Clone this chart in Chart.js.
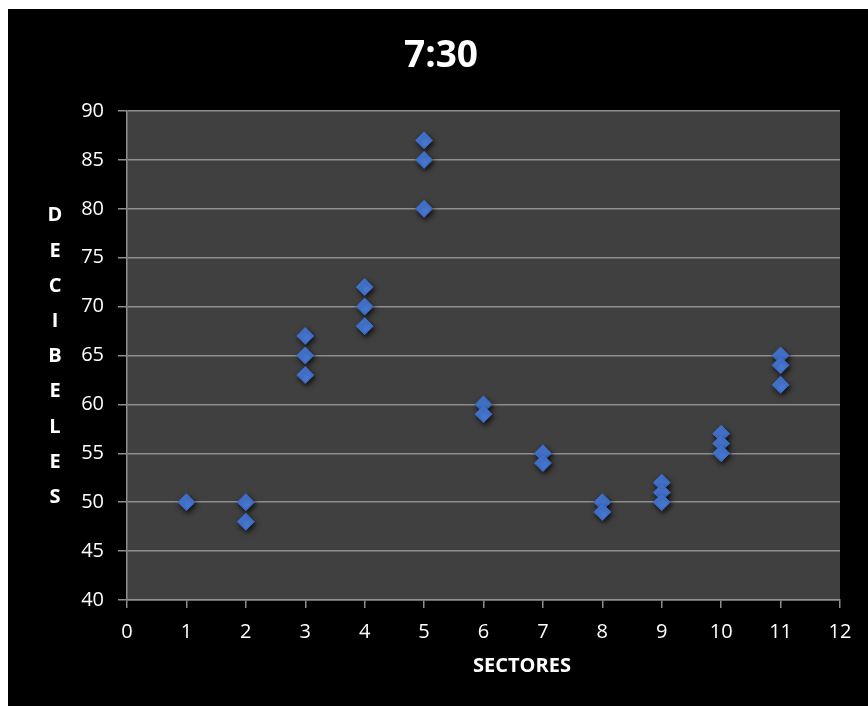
<!DOCTYPE html>
<html>
<head>
<meta charset="utf-8">
<script src="https://cdn.jsdelivr.net/npm/chart.js@4/dist/chart.umd.min.js"></script>
<style>
  html, body { margin: 0; padding: 0; background: #ffffff; }
  #frame { position: absolute; left: 8px; top: 9px; width: 860px; height: 697px; background: #000000; }
  #chart { display: block; }
</style>
</head>
<body>
<div id="frame"><canvas id="chart" width="860" height="697"></canvas></div>
<script>
// Noise readings per sector at 7:30
const sectores  = [1, 2, 2, 3, 3, 3, 4, 4, 4, 5, 5, 5, 6, 6, 7, 7, 8, 8, 9, 9, 9, 10, 10, 10, 11, 11, 11];
const decibeles = [50, 50, 48, 67, 65, 63, 72, 70, 68, 87, 85, 80, 60, 59, 55, 54, 50, 49, 52, 51, 50, 57, 56, 55, 65, 64, 62];
const xTicks = [0, 1, 2, 3, 4, 5, 6, 7, 8, 9, 10, 11, 12];
const yTicks = [40, 45, 50, 55, 60, 65, 70, 75, 80, 85, 90];
const titulo = '7:30';
const tituloX = 'SECTORES';
const tituloY = 'DECIBELES';

const FONT = "'Open Sans', 'Liberation Sans', sans-serif";
const GRID = '#8e8e8e';

const points = sectores.map((s, i) => ({ x: s, y: decibeles[i] }));

// gray plot background behind the grid
const plotBackground = {
  id: 'plotBackground',
  beforeDraw(chart) {
    const { ctx, chartArea: a } = chart;
    ctx.save();
    ctx.fillStyle = '#404040';
    ctx.fillRect(a.left, a.top, a.right - a.left, a.bottom - a.top);
    ctx.restore();
  }
};

// soft drop shadow under the markers
const markerShadow = {
  id: 'markerShadow',
  beforeDatasetsDraw(chart) {
    const ctx = chart.ctx;
    ctx.save();
    ctx.shadowColor = 'rgba(0,0,0,0.75)';
    ctx.shadowBlur = 5;
    ctx.shadowOffsetX = 1.5;
    ctx.shadowOffsetY = 2.5;
  },
  afterDatasetsDraw(chart) {
    chart.ctx.restore();
  }
};

// chart title, x-axis title and the y-axis title as stacked letters
const chartTexts = {
  id: 'chartTexts',
  afterDraw(chart) {
    const ctx = chart.ctx;
    const a = chart.chartArea;
    ctx.save();
    ctx.fillStyle = '#ffffff';
    ctx.textAlign = 'center';
    ctx.textBaseline = 'middle';

    ctx.font = 'bold 37px ' + FONT;
    ctx.fillText(titulo, 433, 47);

    ctx.font = 'bold 20px ' + FONT;
    ctx.fillText(tituloX, 514, 657);

    ctx.font = 'bold 20px ' + FONT;
    const letters = tituloY.split('');
    const step = 35.2;
    const cy = (a.top + a.bottom) / 2 + 1;
    const y0 = cy - step * (letters.length - 1) / 2;
    letters.forEach((ch, i) => ctx.fillText(ch, 47, y0 + i * step));
    ctx.restore();
  }
};

new Chart(document.getElementById('chart'), {
  type: 'scatter',
  data: {
    datasets: [{
      data: points,
      pointStyle: 'rectRot',
      pointRadius: 8.5,
      pointBackgroundColor: '#4779d6',
      pointBorderColor: '#3c6ac2',
      pointBorderWidth: 1
    }]
  },
  options: {
    responsive: false,
    animation: false,
    layout: { padding: { left: 0, right: 28, top: 102, bottom: 0 } },
    plugins: {
      legend: { display: false },
      tooltip: { enabled: false },
      title: { display: false }
    },
    scales: {
      x: {
        type: 'linear',
        min: 0,
        max: 12,
        afterBuildTicks(scale) { scale.ticks = xTicks.map(v => ({ value: v })); },
        afterFit(scale) { scale.height = 106; },
        ticks: { color: '#ffffff', font: { family: FONT, size: 20 }, padding: 12 },
        grid: { display: true, drawOnChartArea: false, drawTicks: true, tickLength: 8, color: GRID, lineWidth: 1.5 },
        border: { display: true, color: GRID, width: 1.5 },
        title: { display: false }
      },
      y: {
        type: 'linear',
        min: 40,
        max: 90,
        afterBuildTicks(scale) { scale.ticks = yTicks.map(v => ({ value: v })); },
        afterFit(scale) { scale.width = 119; },
        ticks: { color: '#ffffff', font: { family: FONT, size: 20 }, padding: 14 },
        grid: { color: GRID, lineWidth: 1.5, tickLength: 9 },
        border: { display: true, color: GRID, width: 1.5 }
      }
    }
  },
  plugins: [plotBackground, markerShadow, chartTexts]
});
</script>
</body>
</html>
